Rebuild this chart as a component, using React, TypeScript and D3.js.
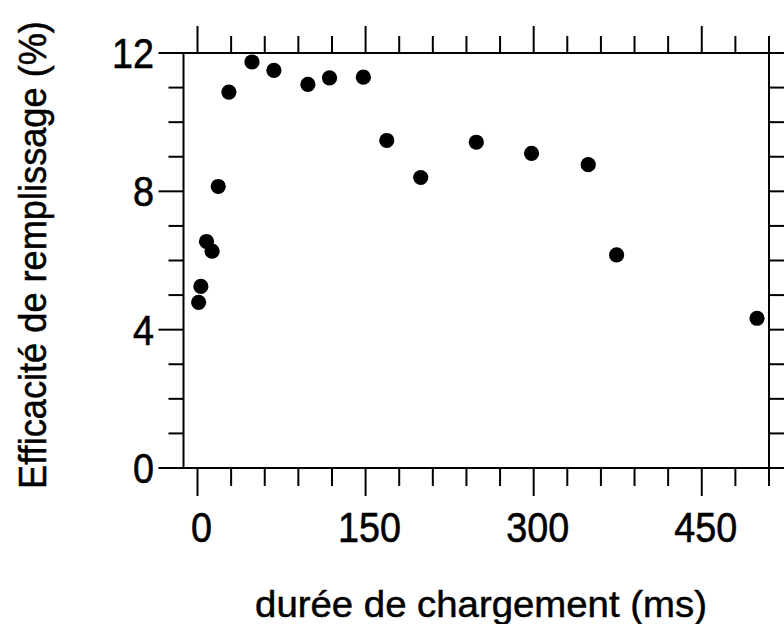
import React, { useLayoutEffect, useRef, useState } from "react";
import * as d3 from "d3";

const durations = [1, 3, 8, 13, 18.5, 28, 48.6, 68.2, 98.5, 117.8, 148, 168.9, 199.2, 248.8, 298.1, 348.7, 374, 499.3];
const efficiency = [4.79, 5.25, 6.55, 6.27, 8.14, 10.87, 11.74, 11.5, 11.09, 11.28, 11.3, 9.47, 8.4, 9.42, 9.1, 8.77, 6.16, 4.33];
const xTickLabels = ["0", "150", "300", "450"];
const yTickLabels = ["0", "4", "8", "12"];
const xTitle = "durée de chargement (ms)";
const yTitle = "Efficacité de remplissage (%)";

const W = 784;
const H = 624;
const font = "'Liberation Sans', Arial, sans-serif";

function FitText(props: {
  x: number; y: number; rotate?: number; anchor: string; size: number; len: number; sw: number; children: string;
}) {
  const ref = useRef<SVGTextElement>(null);
  const [s, setS] = useState(1);
  useLayoutEffect(() => {
    if (ref.current) {
      const natural = ref.current.getComputedTextLength();
      if (natural > 0) setS(props.len / natural);
    }
  }, [props.len, props.children]);
  return (
    <text ref={ref} transform={`translate(${props.x},${props.y}) rotate(${props.rotate || 0}) scale(${s},1)`}
      textAnchor={props.anchor} fontFamily={font} fontSize={props.size} stroke="#000" strokeWidth={props.sw}>
      {props.children}
    </text>
  );
}

export default function App() {
  const x = d3.scaleLinear().domain([-12.5, 510]).range([183.5, 769]);
  const y = d3.scaleLinear().domain([0, 12]).range([468, 53]);
  const [x0, x1] = x.range();
  const [yb, yt] = y.range();
  const xMinor = d3.range(0, 511, 30);
  const yMinor = d3.range(0, 12.01, 1);
  const xMajor = xTickLabels.map(Number);
  const yMajor = yTickLabels.map(Number);
  const sw = 2;
  const data = durations.map((d, i) => ({ d, e: efficiency[i] }));
  return (
    <svg width={W} height={H} style={{ position: "absolute", left: 0, top: 0, background: "#fff" }}>
      <rect x={0} y={0} width={W} height={H} fill="#fff" />
      {/* frame */}
      <rect x={x0} y={yt} width={x1 - x0} height={yb - yt} fill="none" stroke="#000" strokeWidth={sw} />
      {/* bottom & top ticks */}
      {xMinor.map((v) => {
        const major = xMajor.includes(v);
        return (
          <g key={"xt" + v}>
            <line x1={x(v)} x2={x(v)} y1={yb} y2={yb + (major ? 28 : 18)} stroke="#000" strokeWidth={sw} />
            <line x1={x(v)} x2={x(v)} y1={yt} y2={yt - (major ? 27 : 17)} stroke="#000" strokeWidth={sw} />
          </g>
        );
      })}
      {/* left & right ticks */}
      {yMinor.map((v) => {
        const major = yMajor.includes(v);
        return (
          <g key={"yt" + v}>
            <line x1={x0} x2={x0 - (major ? 25 : 15)} y1={y(v)} y2={y(v)} stroke="#000" strokeWidth={sw} />
            <line x1={x1} x2={x1 + (major ? 25 : 15)} y1={y(v)} y2={y(v)} stroke="#000" strokeWidth={sw} />
          </g>
        );
      })}
      {/* x tick labels */}
      {xTickLabels.map((t) => (
        <FitText key={"xl" + t} x={x(+t) + 4} y={541.5} anchor="middle" size={42} len={21 * t.length} sw={0.6}>{t}</FitText>
      ))}
      {/* y tick labels */}
      {yTickLabels.map((t) => (
        <FitText key={"yl" + t} x={154} y={y(+t) + 15} anchor="end" size={42} len={21 * t.length} sw={0.6}>{t}</FitText>
      ))}
      {/* points */}
      {data.map((p, i) => (
        <circle key={"p" + i} cx={x(p.d)} cy={y(p.e)} r={7.6} fill="#000" />
      ))}
      {/* titles */}
      <FitText x={481} y={617} anchor="middle" size={37} len={452} sw={0.5}>{xTitle}</FitText>
      <FitText x={46} y={255} rotate={-90} anchor="middle" size={38} len={468} sw={0.5}>{yTitle}</FitText>
    </svg>
  );
}
